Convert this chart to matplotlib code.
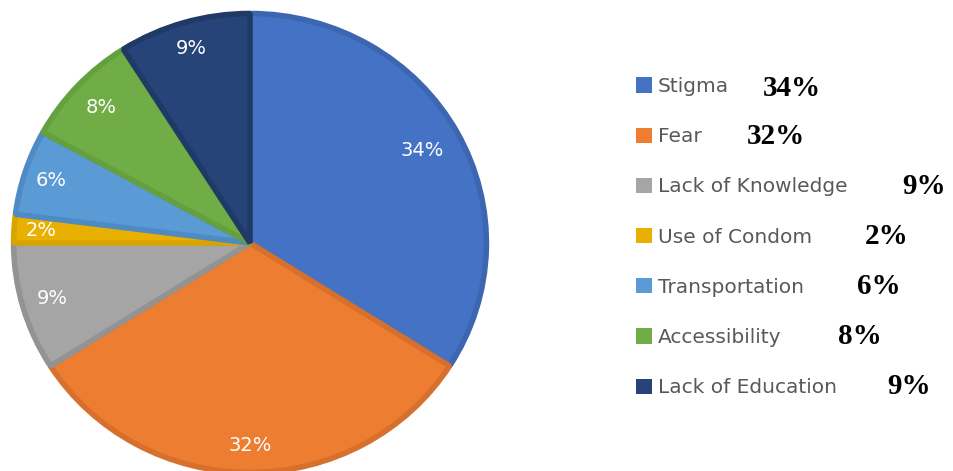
import matplotlib
matplotlib.use("Agg")
import matplotlib.pyplot as plt
from matplotlib.patches import Patch
import numpy as np

categories = ["Stigma", "Fear", "Lack of Knowledge", "Use of Condom",
              "Transportation", "Accessibility", "Lack of Education"]
values = [34, 32, 9, 2, 6, 8, 9]
pct_labels = ["34%", "32%", "9%", "2%", "6%", "8%", "9%"]

colors = ["#4472C4", "#ED7D31", "#A5A5A5", "#E8B000", "#5B9BD5", "#70AD47", "#264478"]
edge_colors = ["#3D66B0", "#D7702C", "#939393", "#D9A400", "#4E8AC3", "#64A03F", "#203A67"]
label_dist = [0.82, 0.87, 0.86, 0.87, 0.87, 0.85, 0.87]

W, H = 954, 471
fig = plt.figure(figsize=(W / 100, H / 100), dpi=100)
fig.patch.set_facecolor("white")

# pie axes (slightly elliptical like the reference)
cx, cy, rx, ry = 250, 243, 240, 233
ax = fig.add_axes([(cx - rx) / W, (H - cy - ry) / H, 2 * rx / W, 2 * ry / H])
wedges, _ = ax.pie(values, colors=colors, startangle=90, counterclock=False,
                   radius=0.985,
                   wedgeprops=dict(linewidth=4, joinstyle="bevel"))
for w, ec in zip(wedges, edge_colors):
    w.set_edgecolor(ec)
ax.set_aspect("auto")
ax.set_xlim(-1, 1)
ax.set_ylim(-1, 1)
ax.axis("off")

for w, lab, d in zip(wedges, pct_labels, label_dist):
    ang = np.deg2rad((w.theta1 + w.theta2) / 2)
    ax.text(d * np.cos(ang), d * np.sin(ang), lab, color="white",
            fontsize=14, family="DejaVu Sans", ha="center", va="center")

# legend
handles = [Patch(facecolor=c, edgecolor="none") for c in colors]
leg = fig.legend(handles, categories, loc="upper left",
                 bbox_to_anchor=(636 / W, 1 - 77 / H),
                 frameon=False, prop=dict(family="DejaVu Sans", size=14.5),
                 labelcolor="#595959", handlelength=0.78, handleheight=0.78,
                 handletextpad=0.3, labelspacing=1.55, borderpad=0, borderaxespad=0)

# bold percentages beside legend entries
pct_x = [763, 747, 902, 865, 857, 838, 887]
row_y = [88, 137, 186, 237, 286, 336, 386]
for lab, x, y in zip(pct_labels, pct_x, row_y):
    fig.text(x / W, 1 - y / H, lab, fontsize=21, fontweight="bold",
             family="Liberation Serif", color="black", ha="left", va="center")

fig.savefig("out.png", dpi=100, facecolor="white")
